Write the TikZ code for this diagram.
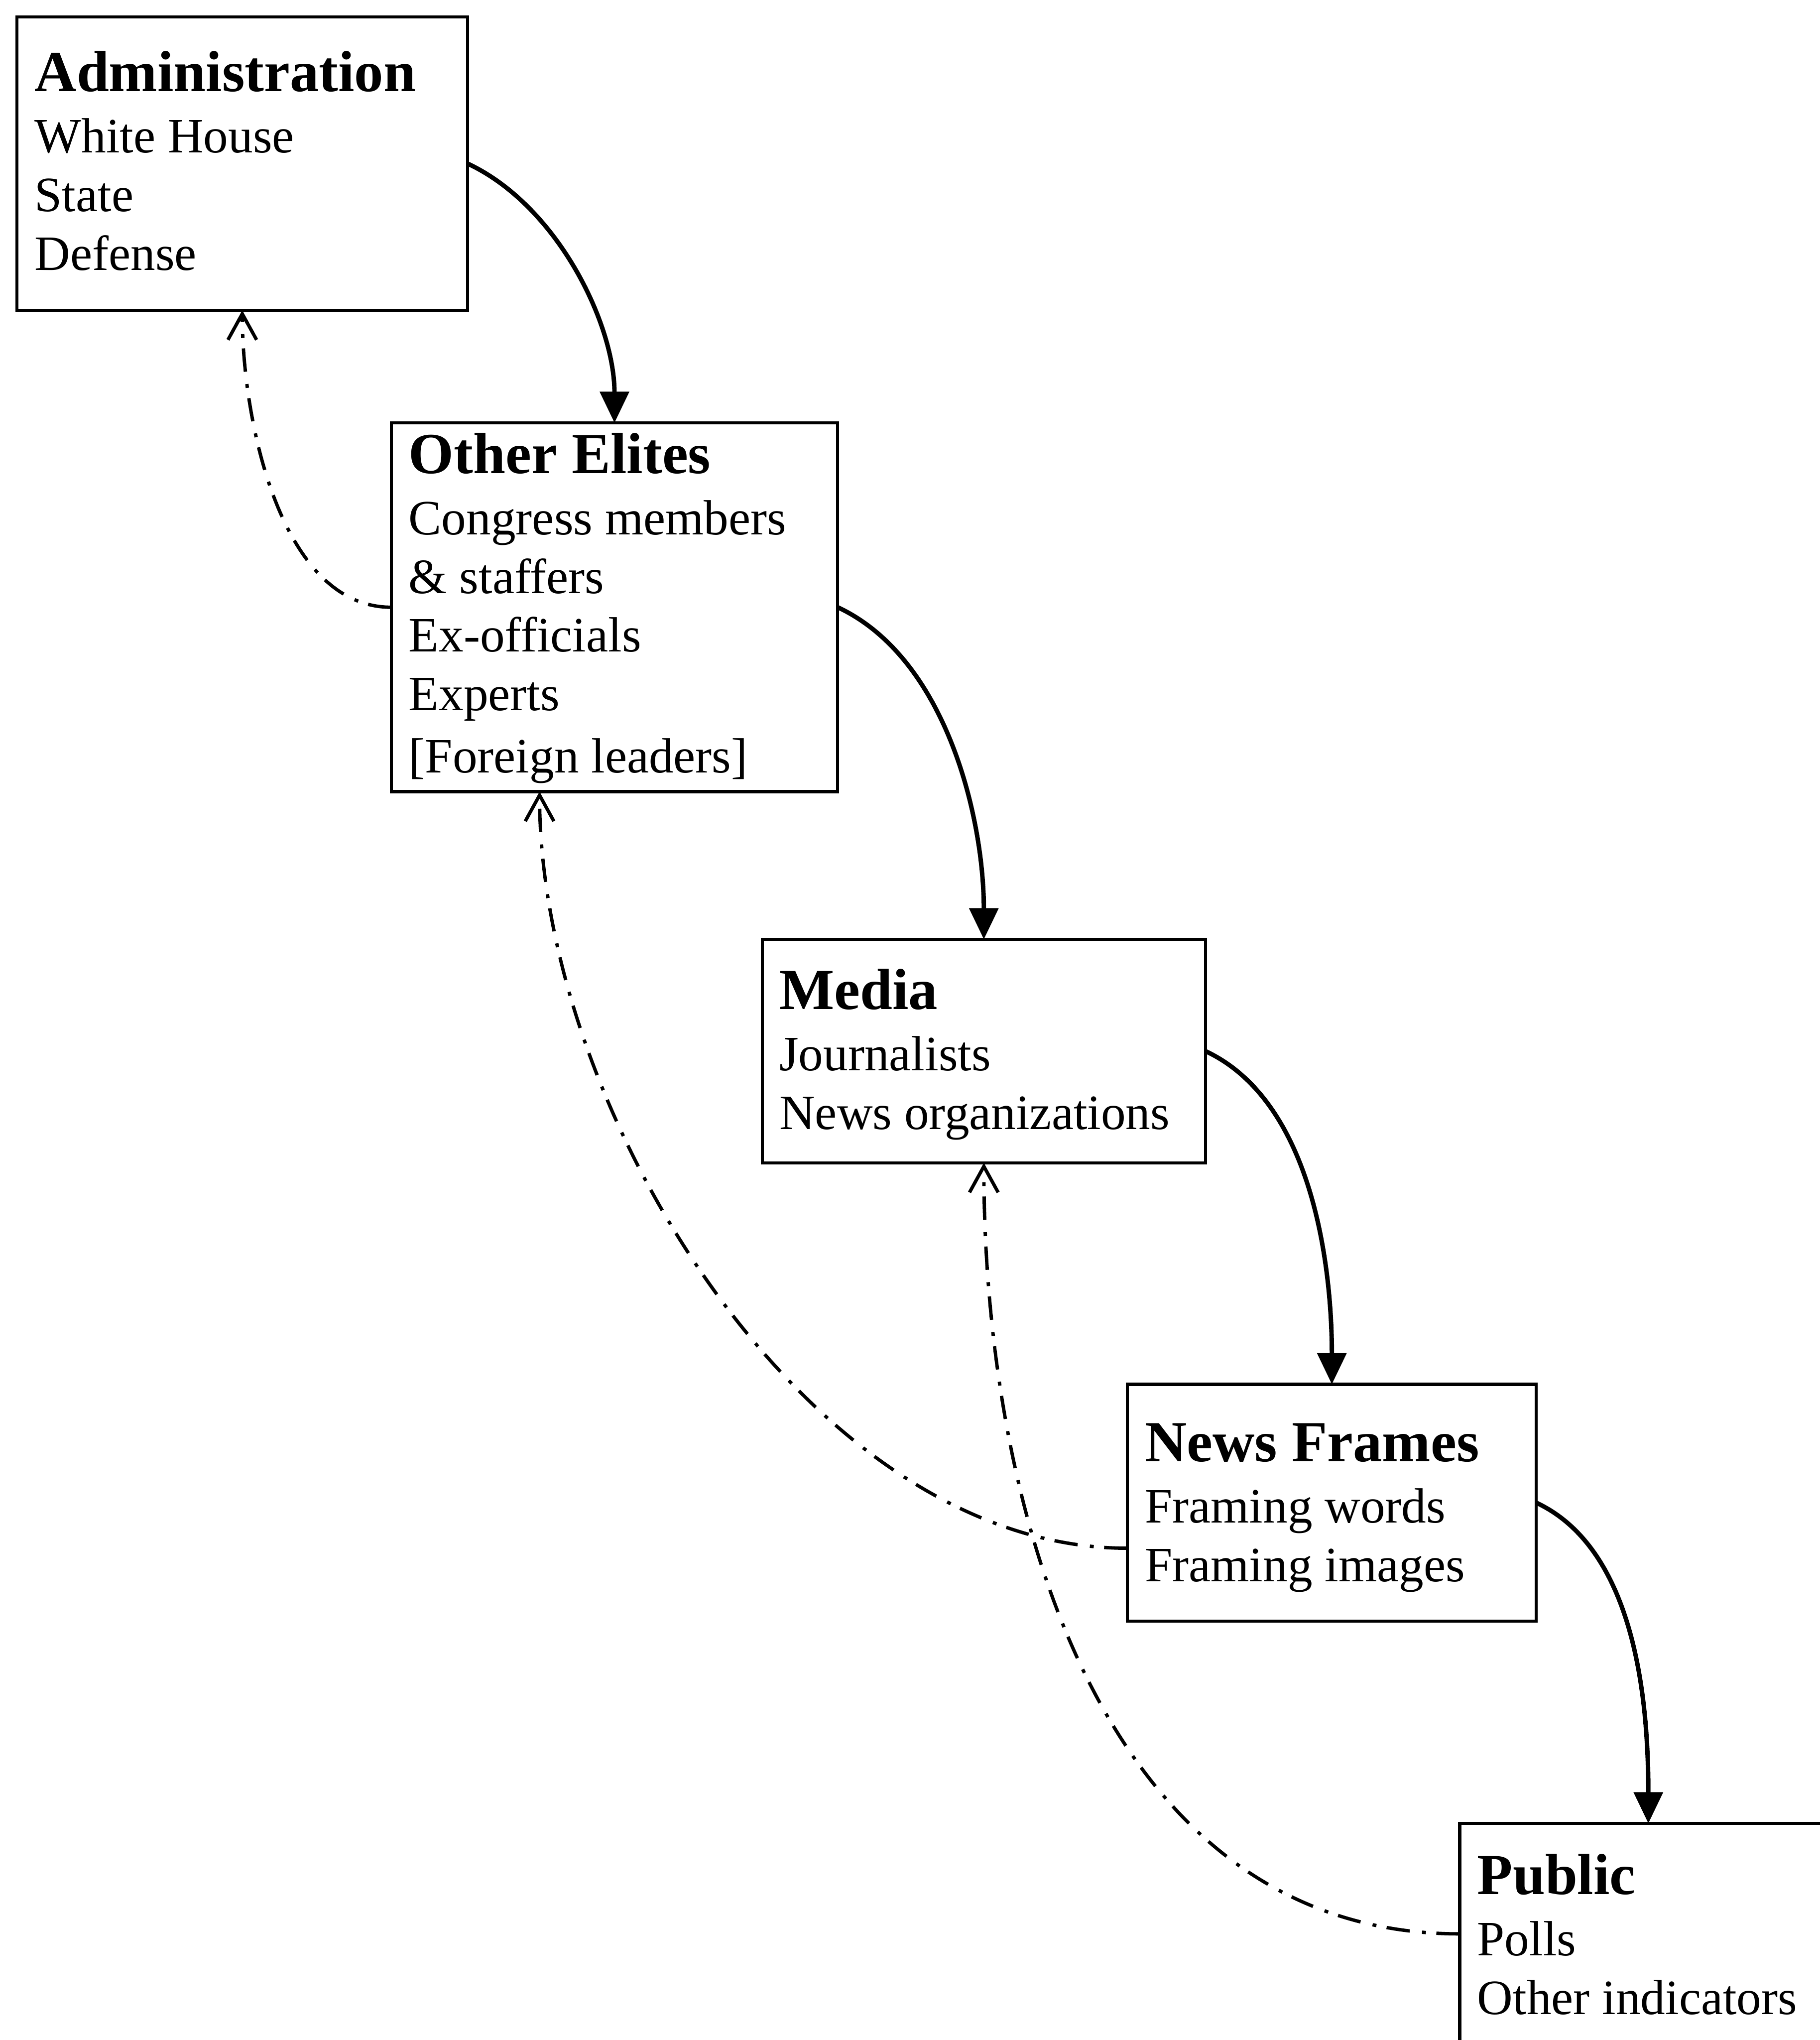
\documentclass[tikz,border=0pt]{standalone}
\usepackage{fontspec}
\setmainfont{Liberation Serif}
\usetikzlibrary{arrows.meta,calc}
\begin{document}
\begin{tikzpicture}[x=1pt,y=1pt,
 box/.style={draw, line width=2.4pt, rectangle, inner sep=0pt, outer sep=0pt, anchor=north west},
 txt/.style={anchor=base west, align=left, inner sep=0pt, font=\fontsize{38}{45}\selectfont},
 flow/.style={line width=3.4pt, -{Triangle[length=24pt,width=22pt]}, out=-25, in=90, looseness=0.85},
 feedback/.style={line width=2.6pt, dash pattern=on 18pt off 8pt on 3pt off 9.5pt, -{Straight Barb[length=20pt,width=22pt]}, out=180, in=-90}]
\useasboundingbox (0,0) rectangle (1399,-1568);

% boxes
\node[box, minimum width=346.5pt, minimum height=225.5pt] (admin) at (13,-13) {};
\node[box, minimum width=343.2pt, minimum height=283.5pt] (elites) at (300.8,-325) {};
\node[box, minimum width=340.7pt, minimum height=171.8pt] (media) at (586,-722) {};
\node[box, minimum width=314.2pt, minimum height=182pt] (frames) at (866.8,-1064) {};
\node[box, minimum width=290pt, minimum height=169.8pt] (public) at (1122.2,-1401.5) {};

% texts (anchor = baseline of the last line)
\node[txt] (adminT) at (26.5,-207.5) {{\fontsize{44.7}{45}\selectfont\bfseries Administration}\\[2.3pt]White House\\State\\Defense};
\node[txt] (elitesT) at (314,-594) {{\fontsize{44.7}{45}\selectfont\bfseries Other Elites}\\[2.3pt]Congress members\\\& staffers\\Ex-officials\\Experts\\[3pt]{[}Foreign leaders{]}};
\node[txt] (mediaT) at (599,-868) {{\fontsize{44.7}{45}\selectfont\bfseries Media}\\[2.3pt]Journalists\\News organizations};
\node[txt] (framesT) at (880,-1215.5) {{\fontsize{44.7}{45}\selectfont\bfseries News Frames}\\[2.3pt]Framing words\\Framing images};
\node[txt] (publicT) at (1135.5,-1548.2) {{\fontsize{44.7}{45}\selectfont\bfseries Public}\\[2.3pt]Polls\\Other indicators};

% anchor points of connectors
\coordinate (elitesIn) at ($(elites.south west)+(114,0)$);
\coordinate (framesOut) at ($(frames.west)+(0,-35)$);

% main flow
\draw[flow] (admin.east) to (elites.north);
\draw[flow] (elites.east) to (media.north);
\draw[flow] (media.east) to (frames.north);
\draw[flow] (frames.east) to (public.north);

% feedback
\draw[feedback, looseness=0.85] (elites.west) to (admin.south);
\draw[feedback, looseness=0.85] (framesOut) to (elitesIn);
\draw[feedback, looseness=1] (public.west) to (media.south);
\end{tikzpicture}
\end{document}
